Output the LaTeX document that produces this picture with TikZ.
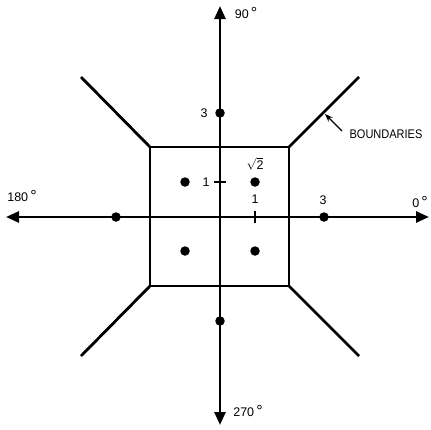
\documentclass[tikz,border=0pt]{standalone}
\usepackage{fontspec}
\setmainfont{Liberation Sans}
\usetikzlibrary{arrows.meta}
\newcommand{\dg}{\,{\fontsize{16}{16}\selectfont °}}
\begin{document}
\begin{tikzpicture}[x=1pt,y=-1pt,
  axis/.style={line width=2.6pt,-{Triangle[length=13pt,width=11pt]}},
  bnd/.style={line width=2.8pt},
  pt/.style={circle,fill=black,inner sep=0pt,minimum size=9.5pt},
  lbl/.style={font=\fontsize{12.5}{14}\selectfont,inner sep=0pt},
  tick/.style={line width=1.5pt}]
\useasboundingbox (0,0) rectangle (431,429);
% centre and axis ends
\coordinate (O) at (220,217);
\coordinate (E) at (429,217);
\coordinate (W) at (6,217);
\coordinate (N) at (220,6);
\coordinate (S) at (220,425);
\draw[axis] (O) -- (E);
\draw[axis] (O) -- (W);
\draw[axis] (O) -- (N);
\draw[axis] (O) -- (S);
% square corners
\coordinate (A) at (150,147);
\coordinate (B) at (289,147);
\coordinate (C) at (289,286);
\coordinate (D) at (150,286);
\draw[bnd,line join=miter] (A) -- (B) -- (C) -- (D) -- cycle;
% boundary lines
\coordinate (Aa) at (81,77);
\coordinate (Bb) at (359,77);
\coordinate (Cc) at (359,356);
\coordinate (Dd) at (81,356);
\draw[bnd] (A) -- (Aa);
\draw[bnd] (B) -- (Bb);
\draw[bnd] (C) -- (Cc);
\draw[bnd] (D) -- (Dd);
% dots
\node[pt] (p1) at (185,182) {};
\node[pt] (p2) at (255,182) {};
\node[pt] (p3) at (185,251) {};
\node[pt] (p4) at (255,251) {};
\node[pt] (a1) at (220,113) {};
\node[pt] (a2) at (324,217) {};
\node[pt] (a3) at (116,217) {};
\node[pt] (a4) at (220,321) {};
% ticks
\coordinate (t1a) at (214,182);
\coordinate (t1b) at (226,182);
\draw[tick] (t1a) -- (t1b);
\coordinate (t2a) at (255,211);
\coordinate (t2b) at (255,223);
\draw[tick] (t2a) -- (t2b);
% labels
\node[lbl] (l90) at (246,13) {90\dg};
\node[lbl] (l270) at (248,411) {270\dg};
\node[lbl] (l180) at (22,196) {180\dg};
\node[lbl] (l0) at (420,202) {0\dg};
\node[lbl] (l3r) at (323,200) {3};
\node[lbl] (l3t) at (204,113) {3};
\node[lbl] (l1l) at (206,182) {1};
\node[lbl] (l1b) at (255,199) {1};
\node[lbl] (lsq) at (255,164) {$\sqrt{\mbox{2}}$};
\node[lbl,xscale=0.88] (lb) at (386,134) {BOUNDARIES};
\coordinate (ar1) at (342,131);
\coordinate (ar2) at (325,114);
\draw[line width=1.4pt,-{Stealth[length=8pt,width=6pt]}] (ar1) -- (ar2);
\end{tikzpicture}
\end{document}
